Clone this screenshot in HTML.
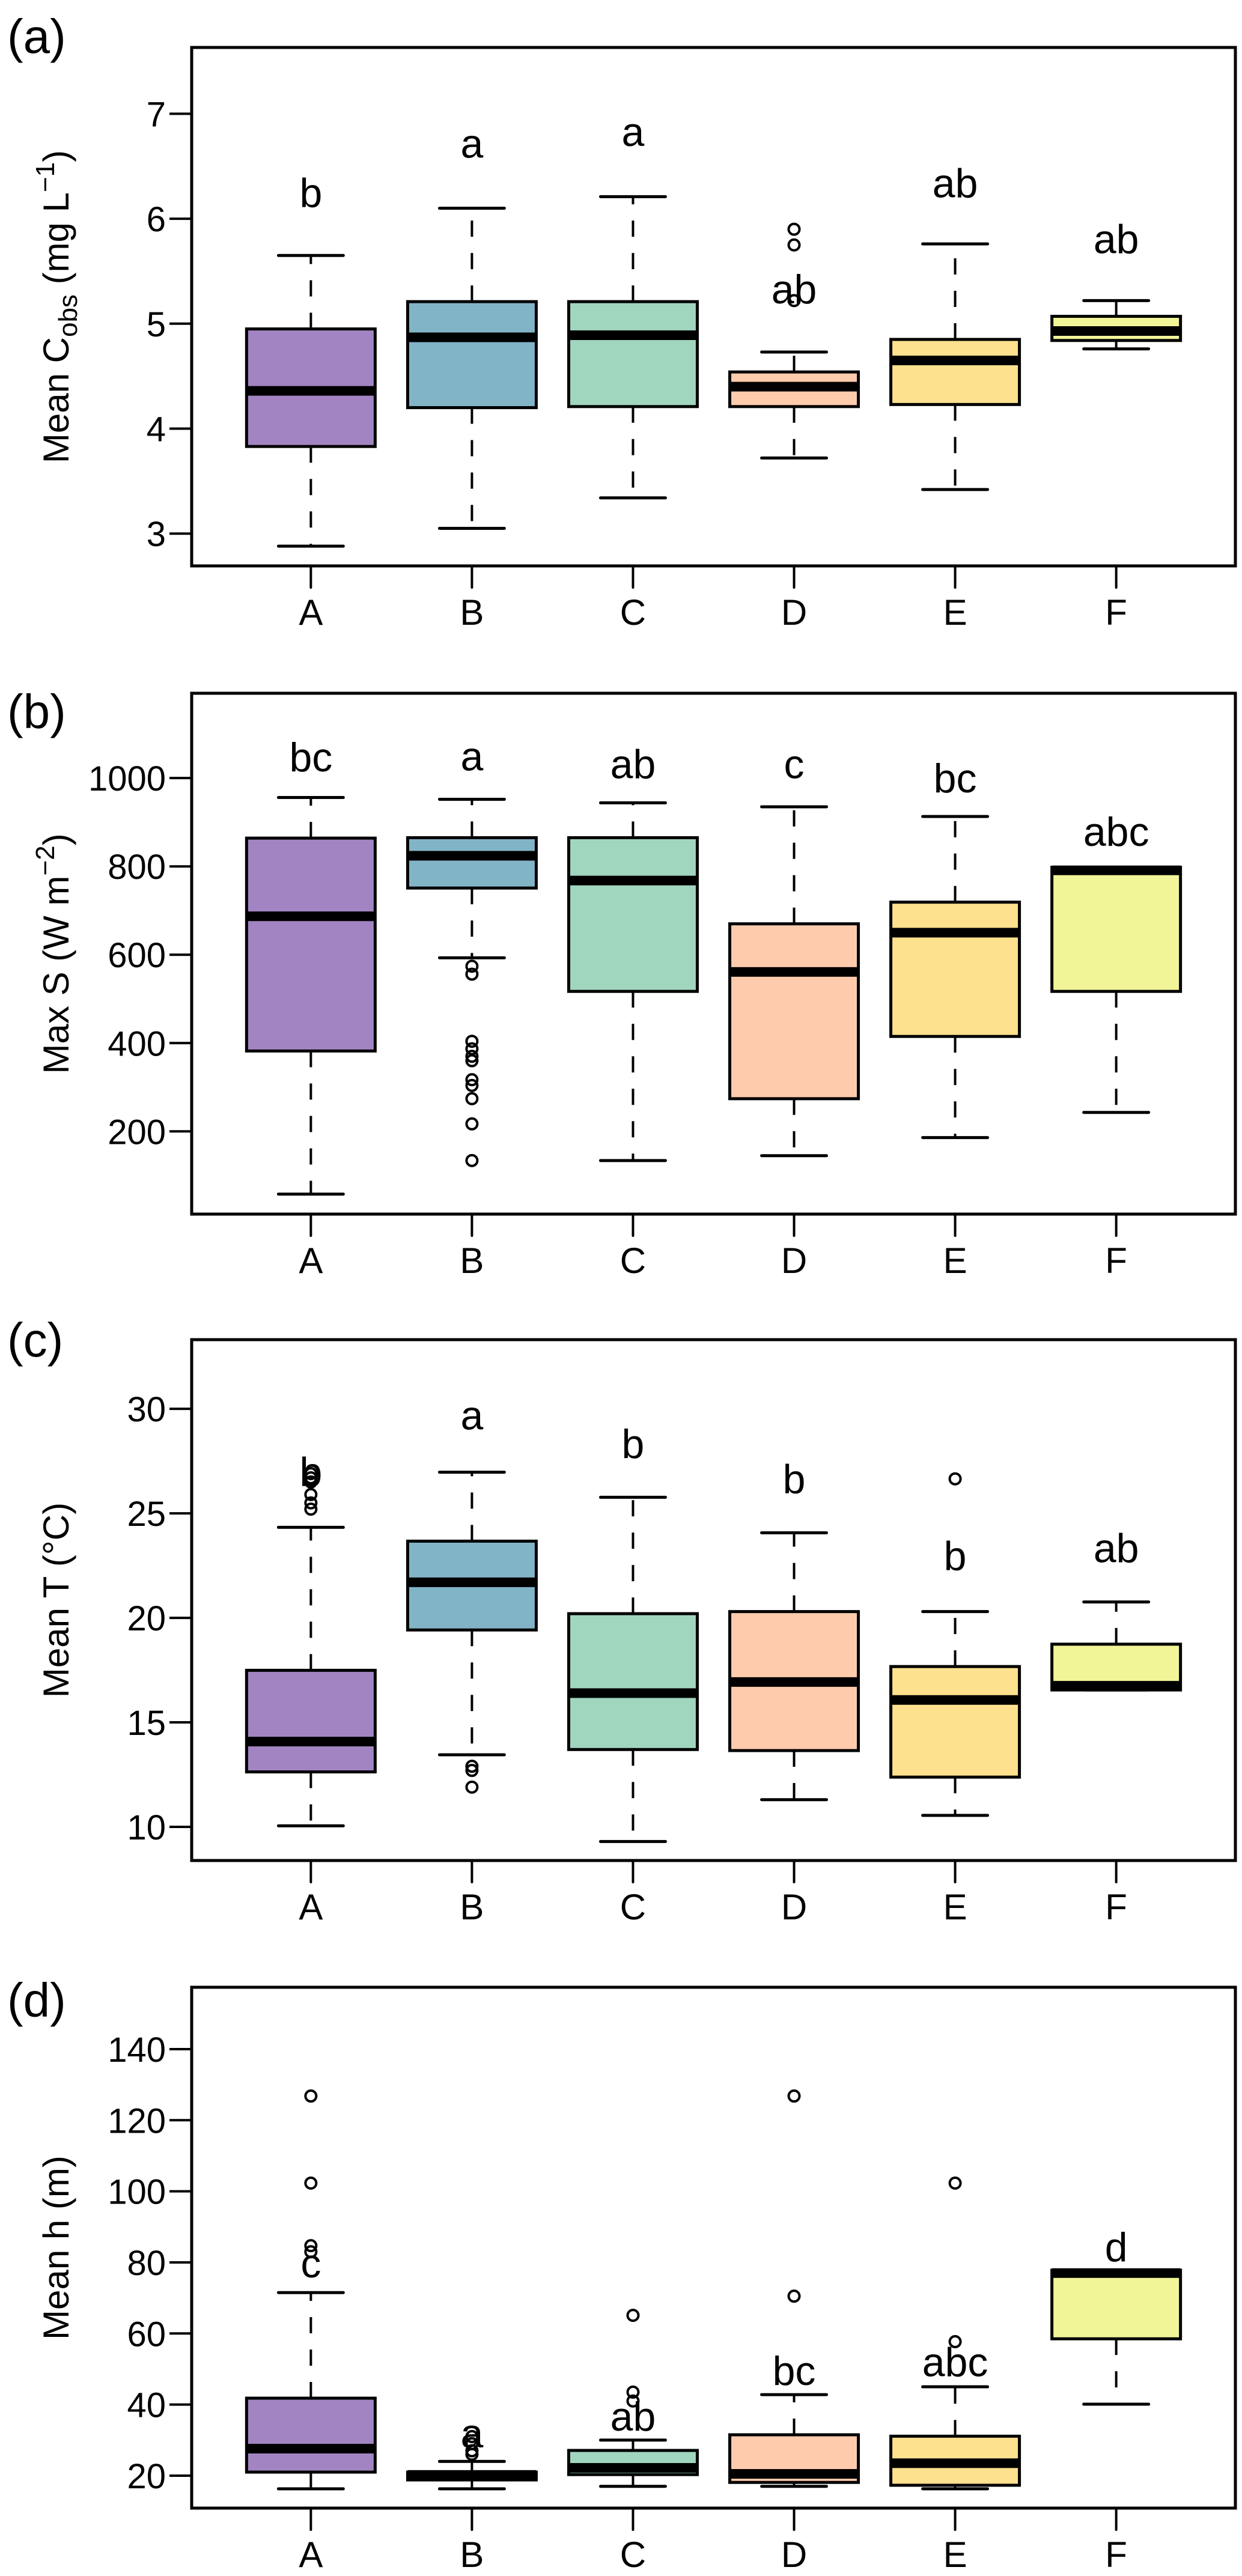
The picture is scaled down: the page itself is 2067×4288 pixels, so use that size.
<!DOCTYPE html>
<html>
<head>
<meta charset="utf-8">
<style>
  html, body { margin:0; padding:0; background:#fff; }
  svg { display:block; font-family:"Liberation Sans", Arial, sans-serif; }
</style>
</head>
<body>
<svg id="fig" xmlns="http://www.w3.org/2000/svg" width="2067" height="4288" viewBox="0 0 2067 4288"></svg>
<script>
// ---- data ----
const categories = ["A","B","C","D","E","F"];
const colors = ["#A284C2","#82B4C8","#A0D5BE","#FECBAD","#FEE18E","#F2F597"];

// panel (a) Mean Cobs
const aLower  = [2.88, 3.05, 3.34, 3.72, 3.42, 4.76];
const aQ1     = [3.83, 4.20, 4.21, 4.21, 4.23, 4.84];
const aMedian = [4.36, 4.87, 4.89, 4.40, 4.65, 4.93];
const aQ3     = [4.95, 5.21, 5.21, 4.54, 4.85, 5.07];
const aUpper  = [5.65, 6.10, 6.21, 4.73, 5.76, 5.22];
const aOutliers = [[], [], [], [5.90, 5.75, 5.22], [], []];
const aLetters = ["b","a","a","ab","ab","ab"];
const aLetterY = [6.25, 6.72, 6.83, 5.33, 6.34, 5.81];
const aTicks = [3,4,5,6,7];

// panel (b) Max S
const bLower  = [58, 593, 134, 145, 186, 243];
const bQ1     = [382, 751, 517, 274, 415, 517];
const bMedian = [687, 824, 768, 561, 650, 791];
const bQ3     = [864, 865, 865, 670, 719, 798];
const bUpper  = [956, 952, 944, 935, 913, 798];
const bOutliers = [[], [574, 556, 404, 387, 370, 360, 317, 304, 274, 217, 134], [], [], [], []];
const bLetters = ["bc","a","ab","c","bc","abc"];
const bLetterY = [1048, 1050, 1032, 1032, 1000, 879];
const bTicks = [200,400,600,800,1000];

// panel (c) Mean T
const cLower  = [10.05, 13.45, 9.3, 11.3, 10.55, 16.55];
const cQ1     = [12.63, 19.42, 13.7, 13.65, 12.38, 16.55];
const cMedian = [14.08, 21.70, 16.4, 16.93, 16.07, 16.75];
const cQ3     = [17.49, 23.67, 20.2, 20.30, 17.67, 18.74];
const cUpper  = [24.33, 26.97, 25.77, 24.07, 20.30, 20.76];
const cOutliers = [[26.9, 26.7, 26.5, 25.9, 25.5, 25.2], [12.9, 12.7, 11.9], [], [], [26.65], []];
const cLetters = ["b","a","b","b","b","ab"];
const cLetterY = [27.0, 29.7, 28.34, 26.65, 22.97, 23.35];
const cTicks = [10,15,20,25,30];

// panel (d) Mean h
const dLower  = [16.3, 16.3, 17.0, 17.0, 16.3, 40.1];
const dQ1     = [21.0, 18.8, 20.3, 18.1, 17.3, 58.5];
const dMedian = [27.6, 20.2, 22.2, 20.5, 23.5, 77.0];
const dQ3     = [41.8, 21.0, 27.1, 31.5, 31.1, 77.8];
const dUpper  = [71.5, 24.0, 30.0, 42.8, 45.0, 77.8];
const dOutliers = [[126.8, 102.3, 84.7, 83.0], [31, 29, 27, 26], [65.1, 43.5, 41.0], [126.8, 70.5], [102.3, 57.7], []];
const dLetters = ["c","a","ab","bc","abc","d"];
const dLetterY = [79.8, 32.0, 36.7, 49.6, 52.0, 84.4];
const dTicks = [20,40,60,80,100,120,140];

// ---- layout ----
const NS = "http://www.w3.org/2000/svg";
const svg = document.getElementById("fig");
const plotLeft = 319, plotRight = 2056;
const xMin = 0.26, xMax = 6.74;
function xScale(i){ return plotLeft + (i + 1 - xMin) / (xMax - xMin) * (plotRight - plotLeft); }

function mk(tag, attrs, parent){
  const e = document.createElementNS(NS, tag);
  for (const k in attrs) e.setAttribute(k, attrs[k]);
  (parent || svg).appendChild(e);
  return e;
}

const panels = [
  {id:"a", label:"(a)", top:79, bottom:942, yMin:2.692, yMax:7.632, labelY:88,
   lower:aLower,q1:aQ1,med:aMedian,q3:aQ3,upper:aUpper,out:aOutliers,letters:aLetters,letterY:aLetterY,ticks:aTicks},
  {id:"b", label:"(b)", top:1154, bottom:2021, yMin:12.7, yMax:1192, labelY:1212,
   lower:bLower,q1:bQ1,med:bMedian,q3:bQ3,upper:bUpper,out:bOutliers,letters:bLetters,letterY:bLetterY,ticks:bTicks},
  {id:"c", label:"(c)", top:2230, bottom:3097, yMin:8.39, yMax:33.31, labelY:2258,
   lower:cLower,q1:cQ1,med:cMedian,q3:cQ3,upper:cUpper,out:cOutliers,letters:cLetters,letterY:cLetterY,ticks:cTicks},
  {id:"d", label:"(d)", top:3308, bottom:4175, yMin:10.87, yMax:157.4, labelY:3357,
   lower:dLower,q1:dQ1,med:dMedian,q3:dQ3,upper:dUpper,out:dOutliers,letters:dLetters,letterY:dLetterY,ticks:dTicks}
];

panels.forEach(p => {
  const g = mk("g", {});
  
  
  const yScale = v => p.bottom - (v - p.yMin) / (p.yMax - p.yMin) * (p.bottom - p.top);

  const pl = mk("text", {x:12, y:p.labelY, "font-size":80, fill:"#000"}, g);
  pl.textContent = p.label;
  
  

  const cy = (p.top + p.bottom) / 2;
  const yt = mk("text", {x:0, y:0, "font-size":60, "text-anchor":"middle", fill:"#000",
    transform:`translate(114,${cy}) rotate(-90)`}, g);
  
  
  if (p.id === "a") {
    const t1 = mk("tspan", {}, yt); t1.textContent = "Mean C";
    const t2 = mk("tspan", {dy:14, "font-size":44}, yt); t2.textContent = "obs";
    const t3 = mk("tspan", {dy:-14}, yt); t3.textContent = " (mg L";
    const t4 = mk("tspan", {dy:-24, "font-size":44}, yt); t4.textContent = "−1";
    const t5 = mk("tspan", {dy:24}, yt); t5.textContent = ")";
  } else if (p.id === "b") {
    const t1 = mk("tspan", {}, yt); t1.textContent = "Max S (W m";
    const t2 = mk("tspan", {dy:-24, "font-size":44}, yt); t2.textContent = "−2";
    const t3 = mk("tspan", {dy:24}, yt); t3.textContent = ")";
  } else if (p.id === "c") {
    yt.textContent = "Mean T (°C)";
  } else {
    yt.textContent = "Mean h (m)";
  }

  p.ticks.forEach(t => {
    const y = yScale(t);
    const tl = mk("line", {x1:282, x2:319, y1:y, y2:y, stroke:"#000", "stroke-width":4}, g);
    
    
    const tx = mk("text", {x:276, y:y + 21, "font-size":58, "text-anchor":"end", fill:"#000"}, g);
    tx.textContent = t;
    
    
  });

  categories.forEach((c, i) => {
    const x = xScale(i), hw = 107, sw = 54;
    const bg = mk("g", {}, g);
    
    
    const yU = yScale(p.upper[i]), yQ3 = yScale(p.q3[i]), yM = yScale(p.med[i]),
          yQ1 = yScale(p.q1[i]), yL = yScale(p.lower[i]);
    mk("line", {x1:x, x2:x, y1:yQ3, y2:yU, stroke:"#000", "stroke-width":4, "stroke-dasharray":"27 27"}, bg);
    mk("line", {x1:x, x2:x, y1:yQ1, y2:yL, stroke:"#000", "stroke-width":4, "stroke-dasharray":"27 27"}, bg);
    mk("line", {x1:x - sw, x2:x + sw, y1:yU, y2:yU, stroke:"#000", "stroke-width":5, "stroke-linecap":"round"}, bg);
    mk("line", {x1:x - sw, x2:x + sw, y1:yL, y2:yL, stroke:"#000", "stroke-width":5, "stroke-linecap":"round"}, bg);
    mk("rect", {x:x - hw, y:yQ3, width:2 * hw, height:Math.max(yQ1 - yQ3, 0.5), fill:colors[i], stroke:"#000", "stroke-width":5}, bg);
    mk("line", {x1:x - hw, x2:x + hw, y1:yM, y2:yM, stroke:"#000", "stroke-width":16}, bg);
    p.out[i].forEach(v => {
      const o = mk("circle", {cx:x, cy:yScale(v), r:9, fill:"none", stroke:"#000", "stroke-width":4}, bg);
      
      
    });
    const lt = mk("text", {x:x, y:yScale(p.letterY[i]) + 24, "font-size":68, "text-anchor":"middle", fill:"#000"}, g);
    lt.textContent = p.letters[i];
    
    
    const xt = mk("line", {x1:x, x2:x, y1:p.bottom, y2:p.bottom + 36, stroke:"#000", "stroke-width":4, "stroke-linecap":"round"}, g);
    
    
    const xl = mk("text", {x:x, y:p.bottom + 98, "font-size":60, "text-anchor":"middle", fill:"#000"}, g);
    xl.textContent = c;
    
    
  });

  const fr = mk("rect", {x:plotLeft, y:p.top, width:plotRight - plotLeft, height:p.bottom - p.top, fill:"none", stroke:"#000", "stroke-width":5}, g);
  
  
});
</script>
</body>
</html>
